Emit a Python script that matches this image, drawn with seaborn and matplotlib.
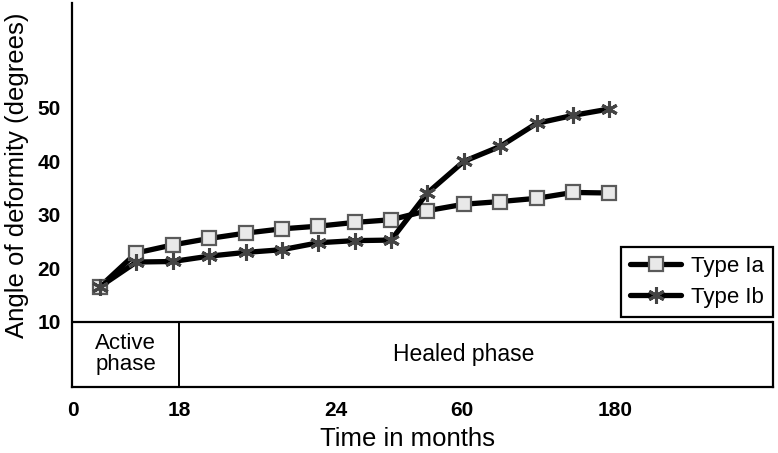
import matplotlib
matplotlib.use("Agg")
import matplotlib.pyplot as plt
import seaborn as sns
import pandas as pd

# ---- data ----
slot = list(range(1, 16))  # evenly spaced measurement slots along the time axis
type_ia = [16.6, 22.9, 24.4, 25.6, 26.6, 27.4, 27.9, 28.6, 29.1, 30.8, 32.0, 32.5, 33.1, 34.2, 34.1]
type_ib = [16.6, 21.2, 21.3, 22.3, 23.0, 23.5, 24.8, 25.2, 25.3, 34.1, 40.0, 42.8, 47.1, 48.6, 49.8]
tick_pos = [0.26, 3.17, 7.48, 10.95, 15.15]
tick_labels = ["0", "18", "24", "60", "180"]
y_ticks = [10, 20, 30, 40, 50]
phase_labels = ["Active\nphase", "Healed phase"]

sns.set_style("white")
plt.rcParams["font.family"] = ["Liberation Sans", "DejaVu Sans"]
plt.rcParams["text.color"] = "black"
plt.rcParams["axes.labelcolor"] = "black"
plt.rcParams["xtick.color"] = "black"
plt.rcParams["ytick.color"] = "black"

fig = plt.figure(figsize=(7.78, 4.53), dpi=100)
ax = fig.add_axes([72 / 778, 1 - 387 / 453, 701 / 778, 384 / 453])

df = pd.DataFrame({"slot": slot, "Type Ia": type_ia, "Type Ib": type_ib})

sns.lineplot(data=df, x="slot", y="Type Ia", ax=ax, color="black", lw=3.8,
             marker="s", ms=9.5, mfc="#e9e9e9", mec="#5a5a5a", mew=1.6,
             label="Type Ia", zorder=3)
sns.lineplot(data=df, x="slot", y="Type Ib", ax=ax, color="black", lw=3.8,
             marker=(6, 2, 0), ms=12, mec="#444444", mew=2.2,
             label="Type Ib", zorder=3)

ymin, ymax = -2.15, 69.6
xmin, xmax = 0.23, 19.5
ax.set_ylim(ymin, ymax)
ax.set_xlim(xmin, xmax)

# phase band below y=10
ax.axhline(10, color="black", lw=1.6, zorder=2)
ax.plot([tick_pos[1], tick_pos[1]], [ymin, 10], color="black", lw=1.4, zorder=2)
ax.text((xmin + tick_pos[1]) / 2, 4.0, phase_labels[0], ha="center", va="center",
        fontsize=16, linespacing=1.0)
ax.text((tick_pos[1] + xmax) / 2 - 0.35, 4.0, phase_labels[1], ha="center", va="center",
        fontsize=16.5)

for s in ["left", "bottom", "right"]:
    ax.spines[s].set_visible(True)
    ax.spines[s].set_color("black")
    ax.spines[s].set_linewidth(1.6)
ax.spines["top"].set_visible(False)
ax.spines["right"].set_bounds(ymin, 10)

ax.set_xticks(tick_pos)
ax.set_xticklabels(tick_labels, fontsize=15, fontweight="bold")
ax.set_yticks(y_ticks)
ax.set_yticklabels([str(v) for v in y_ticks], fontsize=15, fontweight="bold")
ax.tick_params(axis="x", length=0, pad=10)
ax.tick_params(axis="y", length=0, pad=8)

ax.set_xlabel("Time in months", fontsize=18.5)
ax.set_ylabel("Angle of deformity (degrees)", fontsize=18.5)
ax.xaxis.set_label_coords(0.478, -0.105)
ax.yaxis.set_label_coords(-0.062, 0.552)

leg = ax.legend(loc="upper right", bbox_to_anchor=(1.0, 0.365), borderaxespad=0,
                fontsize=16, frameon=True, fancybox=False, handlelength=2.3,
                handletextpad=0.45, labelspacing=0.45, borderpad=0.4,
                numpoints=1)
leg.get_frame().set_edgecolor("black")
leg.get_frame().set_linewidth(1.6)
leg.get_frame().set_alpha(1)

fig.savefig("out.png", dpi=100)
